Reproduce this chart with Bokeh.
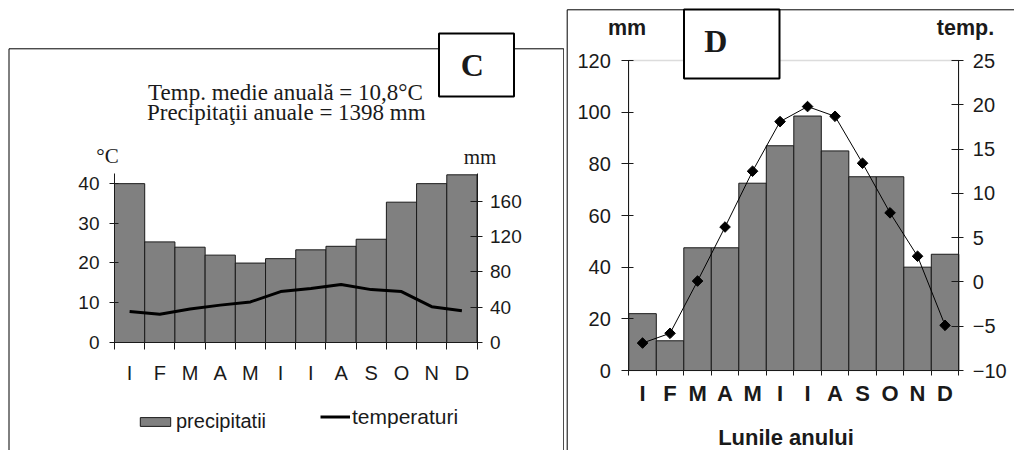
import numpy as np
from bokeh.plotting import figure
from bokeh.layouts import row
from bokeh.models import (Range1d, LinearAxis, FixedTicker, Label, BoxAnnotation,
                          Legend, LegendItem)
from bokeh.embed import file_html
from bokeh.resources import INLINE

# ---------------- data ----------------
months = ["I", "F", "M", "A", "M", "I", "I", "A", "S", "O", "N", "D"]
month_pos = list(range(1, 13))

c_precip_mm = [180, 114, 108, 99, 90, 95, 105, 109, 117, 159, 180, 190]
c_temp_c = [7.8, 7.1, 8.4, 9.4, 10.2, 12.8, 13.6, 14.6, 13.3, 12.8, 9.0, 8.0]
c_temp_ticks = [0, 10, 20, 30, 40]
c_mm_ticks = [0, 40, 80, 120, 160]
c_temp_max = 42.5
c_mm_max = 191.5
c_title_1 = "Temp. medie anuală = 10,8°C"
c_title_2 = "Precipitaţii anuale = 1398 mm"

d_precip_mm = [22, 11.5, 47.5, 47.5, 72.5, 87, 98.5, 85, 75, 75, 40, 45]
d_temp_c = [-6.9, -5.8, 0.1, 6.2, 12.5, 18.1, 19.8, 18.7, 13.4, 7.8, 2.9, -4.9]
d_mm_ticks = [0, 20, 40, 60, 80, 100, 120]
d_temp_ticks = [-10, -5, 0, 5, 10, 15, 20, 25]

SANS = "Liberation Sans"
SERIF = "Liberation Serif"
INK = "#1a1a1a"
BAR = "#808080"
bounds = [i + 0.5 for i in range(13)]

W_C, W_D, H = 564, 450, 450


def span_range(v0, v1, p0, p1, total):
    """Range whose value v0 sits p0 px and v1 sits p1 px from the canvas start."""
    k = (v1 - v0) / (p1 - p0)
    return Range1d(v0 - p0 * k, v0 + (total - p0) * k)


def label(p, x, y, text, font, size, style="normal", align="center", color=INK):
    p.add_layout(Label(x=x, y=y, x_units="screen", y_units="screen", text=text,
                       text_font=font, text_font_size=f"{size}px",
                       text_font_style=style, text_align=align,
                       text_baseline="middle", text_color=color))


def box(p, l, r, t, b, fill=None, lw=1):
    p.add_layout(BoxAnnotation(left=l, right=r, top=t, bottom=b,
                               left_units="screen", right_units="screen",
                               top_units="screen", bottom_units="screen",
                               fill_color=fill if fill else "white",
                               fill_alpha=1.0 if fill else 0.0,
                               line_color="black", line_width=lw, line_alpha=1.0))


def style_axis(ax, size, tin, tout, standoff, fstyle="normal"):
    ax.axis_line_color = INK
    ax.major_tick_line_color = INK
    ax.major_tick_in = tin
    ax.major_tick_out = tout
    ax.minor_tick_line_color = None
    ax.major_label_standoff = standoff
    ax.major_label_text_font = SANS
    ax.major_label_text_font_size = f"{size}px"
    ax.major_label_text_font_style = fstyle
    ax.major_label_text_color = INK


def style_xaxis(ax, size, standoff, tick_out, fstyle="normal"):
    ax.ticker = FixedTicker(ticks=month_pos, minor_ticks=bounds)
    ax.major_label_overrides = {p: m for p, m in zip(month_pos, months)}
    ax.axis_line_color = INK
    ax.major_tick_line_color = None
    ax.major_tick_in = 0
    ax.major_tick_out = 0
    ax.minor_tick_line_color = INK
    ax.minor_tick_in = 0
    ax.minor_tick_out = tick_out
    ax.major_label_standoff = standoff
    ax.major_label_text_font = SANS
    ax.major_label_text_font_size = f"{size}px"
    ax.major_label_text_font_style = fstyle
    ax.major_label_text_color = INK


def base_figure(width, x_range, y_range):
    p = figure(width=width, height=H, x_range=x_range, y_range=y_range,
               output_backend="svg", toolbar_location=None, min_border=0,
               x_axis_location=None, y_axis_location=None)
    p.outline_line_color = None
    p.xgrid.visible = False
    p.ygrid.visible = False
    p.background_fill_color = "white"
    p.border_fill_color = "white"
    return p


# ---------------- chart C ----------------
# plot area: x 0.5..12.5 between canvas px 114 and 476.5; y 0 at 108 px from bottom
pc = base_figure(W_C, span_range(0.5, 12.5, 114, 476.5, W_C),
                 span_range(0, c_temp_max, 108, 277, H))
pc.extra_y_ranges = {"mm": span_range(0, c_mm_max, 108, 277, H)}

bars_c = pc.vbar(x=month_pos, top=c_precip_mm, width=1, bottom=0, y_range_name="mm",
                 fill_color=BAR, line_color=INK, line_width=1)
line_c = pc.line(month_pos, c_temp_c, line_width=3, line_color="black")

left_c = LinearAxis(ticker=FixedTicker(ticks=c_temp_ticks), fixed_location=0.5,
                    bounds=(0, c_temp_max))
style_axis(left_c, 19, 4, 5, 10)
pc.add_layout(left_c, "left")
right_c = LinearAxis(y_range_name="mm", ticker=FixedTicker(ticks=c_mm_ticks),
                     fixed_location=12.5, bounds=(0, c_mm_max))
style_axis(right_c, 19, 7, 5, 8)
pc.add_layout(right_c, "right")
bottom_c = LinearAxis(fixed_location=0, bounds=(0.5, 12.5))
style_xaxis(bottom_c, 20, 12, 7)
pc.add_layout(bottom_c, "below")

# panel frame + letter box
box(pc, 8.5, 563.3, 401.7, -10)
box(pc, 438.5, 513.5, 417, 354, fill="white", lw=2)
label(pc, 471.7, 386, "C", SERIF, 32, style="bold")
label(pc, 285, 358, c_title_1, SERIF, 23)
label(pc, 285.8, 338, c_title_2, SERIF, 23)
label(pc, 107, 294.7, "°C", SERIF, 21)
label(pc, 479.5, 294, "mm", SERIF, 21)

leg1 = Legend(items=[LegendItem(label="precipitatii", renderers=[bars_c])],
              location=(136, 17), orientation="horizontal", glyph_width=38,
              glyph_height=11, label_standoff=2, padding=0, margin=0, spacing=0,
              label_text_font=SANS, label_text_font_size="20px",
              label_text_color=INK, border_line_color=None,
              background_fill_alpha=0.0)
leg2 = Legend(items=[LegendItem(label="temperaturi", renderers=[line_c])],
              location=(320, 21.5), orientation="horizontal", glyph_width=30,
              glyph_height=11, label_standoff=2, padding=0, margin=0, spacing=0,
              label_text_font=SANS, label_text_font_size="21px",
              label_text_color=INK, border_line_color=None,
              background_fill_alpha=0.0)
pc.add_layout(leg1)
pc.add_layout(leg2)

# ---------------- chart D ----------------
pd = base_figure(W_D, span_range(0.5, 12.5, 64.3, 394.3, W_D),
                 span_range(0, 120, 80, 390, H))
pd.extra_y_ranges = {"temp": span_range(-10, 25, 80, 390, H)}

# plot-area border (top edge visible in grey; other edges sit under the axes)
pd.add_layout(BoxAnnotation(left=0.5, right=12.5, bottom=0, top=120, level="underlay",
                            fill_alpha=0.0, line_color="#8c8c8c", line_width=1.5))

pd.vbar(x=month_pos, top=d_precip_mm, width=1, bottom=0,
        fill_color=BAR, line_color=INK, line_width=1)
pd.line(month_pos, d_temp_c, y_range_name="temp", line_color="black", line_width=1)
pd.scatter(month_pos, d_temp_c, y_range_name="temp", marker="square",
           angle=np.pi / 4, size=7.5, fill_color="black", line_color="black")

left_d = LinearAxis(ticker=FixedTicker(ticks=d_mm_ticks), fixed_location=0.5,
                    bounds=(0, 120))
style_axis(left_d, 20, 5, 7, 11)
pd.add_layout(left_d, "left")
right_d = LinearAxis(y_range_name="temp", ticker=FixedTicker(ticks=d_temp_ticks),
                     fixed_location=12.5, bounds=(-10, 25))
style_axis(right_d, 20, 7, 5, 9)
pd.add_layout(right_d, "right")
bottom_d = LinearAxis(fixed_location=0, bounds=(0.5, 12.5))
style_xaxis(bottom_d, 22, 5, 5, fstyle="bold")
pd.add_layout(bottom_d, "below")

box(pd, 2.7, 600, 440.7, -10)
box(pd, 119.5, 215, 441, 372, fill="white", lw=2)
label(pd, 151.3, 409.5, "D", SERIF, 32, style="bold")
label(pd, 62.5, 422.5, "mm", SANS, 21.5, style="bold")
label(pd, 401, 423, "temp.", SANS, 21.5, style="bold")
label(pd, 221.5, 13, "Lunile anului", SANS, 22, style="bold")

layout = row(pc, pd)
open("out.html", "w").write(file_html(layout, INLINE))
